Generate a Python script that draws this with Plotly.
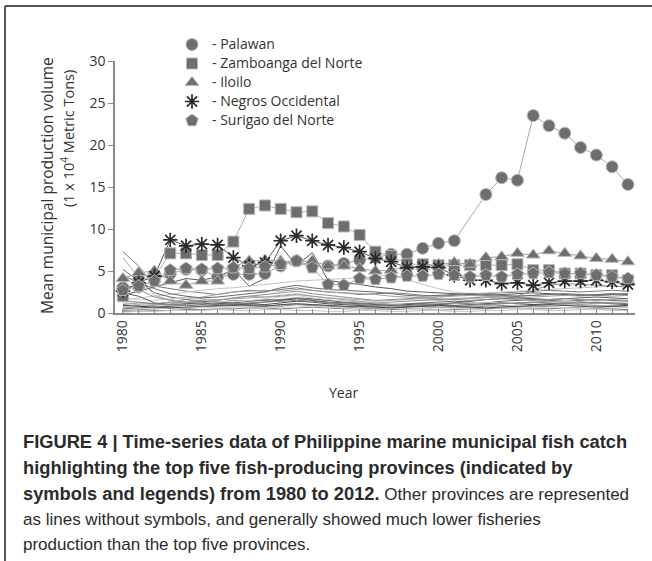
import plotly.graph_objects as go

years = list(range(1980, 2013))

palawan = [3.0, 3.1, 3.9, 4.7, 5.2, 5.1, 4.3, 4.6, 4.6, 4.7, 5.6,
           6.2, 5.6, 5.6, 5.9, 6.3, 6.6, 7.0, 7.0, 7.7, 8.3, 8.6,
           None, 14.1, 16.1, 15.8, 23.5, 22.3, 21.4, 19.7, 18.8, 17.4, 15.3]
zamboanga = [2.0, 4.0, 4.3, 7.1, 7.1, 6.9, 6.9, 8.5, 12.4, 12.8, 12.4,
             12.0, 12.1, 10.7, 10.3, 9.3, 7.3, 6.8, 5.8, 5.8, 5.7, 5.7,
             5.7, 5.7, 5.7, 5.8, 5.1, 5.1, 4.7, 4.7, 4.5, 4.5, 3.9]
iloilo = [4.1, 4.8, 5.0, 3.8, 3.3, 3.8, 3.8, 5.5, 6.2, 6.3, 6.2,
          6.1, 6.2, 5.6, 5.6, 5.3, 5.0, 5.1, 5.5, 5.5, 5.8, 6.0,
          5.8, 6.6, 6.7, 7.1, 6.9, 7.4, 7.1, 6.8, 6.5, 6.4, 6.1]
negros = [2.6, 3.6, 4.4, 8.7, 8.0, 8.2, 8.1, 6.6, 5.6, 6.0, 8.6,
          9.2, 8.6, 8.1, 7.8, 7.3, 6.5, 6.1, 5.4, 5.5, 5.4, 4.5,
          3.9, 3.9, 3.5, 3.6, 3.3, 3.6, 3.8, 3.8, 3.9, 3.7, 3.4]
surigao = [2.7, 3.2, 3.8, 5.1, 5.3, 5.2, 5.3, 5.4, 5.3, 5.5, 5.8,
           6.2, 5.4, 3.4, 3.3, 4.1, 4.0, 4.2, 4.4, 4.4, 4.6, 4.5,
           4.3, 4.5, 4.3, 4.6, 4.7, 4.8, 4.7, 4.7, 4.5, 4.3, 4.1]

top_names = ["- Palawan", "- Zamboanga del Norte", "- Iloilo",
             "- Negros Occidental", "- Surigao del Norte"]

other_provinces = [
    [7.3, 5.6, 3.2, 2.9, 2.6, 2.4, 2.2, 2.5, 2.7, 2.6, 2.8,
     3.0, 2.7, 2.5, 2.4, 2.2, 2.3, 2.4, 2.3, 2.1, 2.0, 2.1,
     2.2, 2.3, 2.4, 2.5, 2.6, 2.7, 2.6, 2.5, 2.6, 2.7, 2.6],
    [6.6, 4.2, 2.1, 1.6, 1.9, 1.7, 1.5, 1.8, 2.0, 1.9, 2.1,
     2.3, 2.0, 1.8, 1.7, 1.6, 1.4, 1.5, 1.6, 1.7, 1.5, 1.6,
     1.7, 1.8, 1.9, 2.0, 2.1, 2.2, 2.1, 2.0, 2.1, 2.2, 2.1],
    [2.1, 2.6, 3.1, 3.6, 4.1, 3.9, 4.3, 5.2, 3.2, 4.1, 8.0,
     5.6, 7.2, 3.9, 3.6, 3.4, 3.1, 2.9, 2.6, 2.5, 2.4, 2.3,
     2.2, 2.1, 2.2, 2.3, 2.4, 2.3, 2.2, 2.1, 2.2, 2.3, 2.2],
    [1.5, 1.8, 2.0, 2.2, 2.5, 2.7, 2.9, 3.0, 3.2, 3.4, 3.6,
     3.8, 3.9, 4.0, 4.1, 4.2, 4.3, 4.6, 4.0, 3.4, 2.9, 2.5,
     2.3, 2.4, 2.5, 2.6, 2.7, 2.8, 2.9, 3.0, 3.1, 3.2, 3.1],
    [1.0, 1.2, 1.1, 1.3, 1.2, 1.4, 1.3, 1.5, 1.4, 1.6, 1.5,
     1.7, 1.6, 1.5, 1.4, 1.3, 1.2, 1.3, 1.4, 1.5, 1.6, 1.7,
     1.8, 1.9, 2.0, 2.0, 2.7, 3.3, 3.5, 3.4, 3.3, 3.2, 3.1],
    [0.8, 0.9, 1.0, 1.3, 1.6, 1.9, 2.2, 2.5, 2.6, 2.7, 2.6,
     2.8, 2.7, 2.5, 2.4, 2.3, 2.2, 2.0, 1.9, 1.8, 1.9, 2.0,
     2.1, 2.0, 1.9, 1.8, 1.9, 2.0, 2.1, 2.2, 2.1, 2.0, 2.1],
    [5.2, 3.8, 2.4, 1.9, 1.6, 1.4, 1.3, 1.2, 1.4, 1.5, 1.6,
     1.8, 1.7, 1.5, 1.3, 1.2, 1.1, 1.0, 1.1, 1.2, 1.3, 1.4,
     1.3, 1.2, 1.4, 1.5, 1.6, 1.5, 1.4, 1.5, 1.6, 1.5, 1.4],
    [1.8, 1.6, 1.5, 1.7, 1.8, 1.6, 1.4, 1.3, 1.5, 1.7, 1.9,
     2.1, 1.8, 1.6, 1.4, 1.3, 1.2, 1.1, 1.0, 0.9, 1.0, 1.1,
     1.2, 1.3, 1.2, 1.1, 1.2, 1.3, 1.4, 1.3, 1.2, 1.3, 1.2],
    [0.5, 0.6, 0.7, 0.8, 0.9, 1.0, 1.1, 1.2, 1.1, 1.0, 1.2,
     1.4, 1.3, 1.1, 1.0, 0.9, 0.8, 0.9, 1.0, 1.1, 1.0, 0.9,
     1.0, 1.1, 1.2, 1.1, 1.0, 1.1, 1.2, 1.3, 1.2, 1.1, 1.0],
    [0.3, 0.4, 0.5, 0.6, 0.5, 0.7, 0.8, 0.9, 1.0, 0.9, 0.8,
     1.0, 0.9, 0.8, 0.7, 0.6, 0.5, 0.6, 0.7, 0.8, 0.7, 0.6,
     0.7, 0.8, 0.9, 0.8, 0.7, 0.8, 0.9, 1.0, 0.9, 0.8, 0.7],
    [0.2, 0.2, 0.3, 0.3, 0.4, 0.4, 0.5, 0.5, 0.6, 0.6, 0.5,
     0.6, 0.7, 0.6, 0.5, 0.5, 0.4, 0.4, 0.5, 0.5, 0.4, 0.4,
     0.5, 0.5, 0.6, 0.6, 0.5, 0.5, 0.6, 0.6, 0.5, 0.5, 0.4],
    [1.2, 1.0, 0.8, 0.9, 1.0, 1.1, 0.9, 0.8, 0.7, 0.8, 0.9,
     1.1, 1.0, 0.9, 0.8, 0.7, 0.6, 0.7, 0.8, 0.7, 0.6, 0.7,
     0.8, 0.9, 0.8, 0.7, 0.8, 0.9, 1.0, 0.9, 0.8, 0.9, 0.8],
    [2.4, 2.0, 1.2, 1.0, 1.1, 1.2, 1.0, 0.9, 1.1, 1.3, 1.5,
     1.7, 1.5, 1.3, 1.2, 1.1, 1.0, 0.9, 0.8, 0.9, 1.0, 1.2,
     1.4, 1.6, 1.7, 1.8, 1.7, 1.6, 1.7, 1.8, 1.9, 1.8, 1.7],
    [0.1, 0.2, 0.2, 0.3, 0.3, 0.3, 0.4, 0.3, 0.3, 0.4, 0.4,
     0.3, 0.3, 0.2, 0.2, 0.3, 0.3, 0.2, 0.2, 0.3, 0.3, 0.2,
     0.2, 0.3, 0.3, 0.4, 0.4, 0.3, 0.3, 0.4, 0.4, 0.3, 0.3],
    [3.5, 2.8, 1.9, 1.5, 1.3, 1.2, 1.5, 1.8, 2.0, 2.2, 2.4,
     2.6, 2.3, 2.1, 1.9, 1.7, 1.5, 1.6, 1.7, 1.8, 1.7, 1.6,
     1.5, 1.6, 1.7, 1.6, 1.5, 1.6, 1.7, 1.6, 1.5, 1.6, 1.5],
    [0.6, 0.7, 0.9, 1.1, 1.3, 1.5, 1.6, 1.7, 1.8, 1.9, 2.0,
     2.2, 2.0, 1.8, 1.6, 1.4, 1.2, 1.0, 0.9, 0.8, 0.7, 0.8,
     0.9, 1.0, 1.1, 1.2, 1.3, 1.4, 1.3, 1.2, 1.1, 1.2, 1.1],
    [4.5, 3.6, 2.9, 2.3, 2.0, 1.8, 1.9, 2.1, 2.3, 2.5, 3.0,
     3.3, 3.0, 2.8, 2.7, 2.6, 2.5, 2.3, 2.1, 2.0, 2.1, 2.2,
     2.3, 2.2, 2.1, 2.0, 2.1, 2.2, 2.3, 2.2, 2.1, 2.2, 2.3],
    [0.4, 0.5, 0.6, 0.5, 0.6, 0.7, 0.6, 0.7, 0.8, 0.7, 0.6,
     0.7, 0.8, 0.7, 0.6, 0.5, 0.4, 0.5, 0.6, 0.5, 0.4, 0.5,
     0.6, 0.7, 0.6, 0.5, 0.6, 0.7, 0.6, 0.5, 0.6, 0.7, 0.6],
    [0.9, 0.8, 0.7, 0.6, 0.7, 0.8, 0.9, 1.0, 0.9, 0.8, 1.0,
     1.1, 1.0, 0.9, 0.8, 0.8, 0.7, 0.6, 0.7, 0.8, 0.9, 0.8,
     0.7, 0.6, 0.7, 0.8, 0.9, 1.0, 0.9, 0.8, 0.7, 0.8, 0.9],
    [1.4, 1.3, 1.1, 1.0, 0.9, 0.8, 1.0, 1.1, 1.2, 1.3, 1.4,
     1.5, 1.4, 1.2, 1.1, 1.0, 0.9, 0.8, 0.9, 1.0, 1.1, 1.2,
     1.1, 1.0, 1.1, 1.2, 1.3, 1.2, 1.1, 1.2, 1.3, 1.2, 1.1],
]

y_ticks = [0, 5, 10, 15, 20, 25, 30]
x_tick_labels = [1980, 1985, 1990, 1995, 2000, 2005, 2010]

FONT = "Open Sans, Noto Sans, sans-serif"
CAP_FONT = "Liberation Sans Narrow, Liberation Sans, Arial, sans-serif"

fig = go.Figure()

bg_colors = ["#7a7a7a", "#b0b0b0", "#5a5a5a", "#c4c4c4", "#909090",
             "#a0a0a0", "#6a6a6a", "#d0d0d0", "#4a4a4a", "#858585"]
for i, vals in enumerate(other_provinces):
    fig.add_trace(go.Scatter(x=years, y=vals, mode="lines",
                             line=dict(color=bg_colors[i % len(bg_colors)], width=1),
                             showlegend=False, hoverinfo="skip"))

series = [palawan, zamboanga, iloilo, negros, surigao]
styles = [
    ("circle", "#6e6e6e", "#b5b5b5", 12, "#a8a8a8"),
    ("square", "#6e6e6e", "#b5b5b5", 11, "#b0b0b0"),
    ("triangle-up", "#6e6e6e", "#b5b5b5", 12, "#a0a0a0"),
    ("asterisk-open", "#2a2a2a", "#2a2a2a", 12, "#555555"),
    ("pentagon", "#6e6e6e", "#b5b5b5", 13, "#a0a0a0"),
]

# connecting lines first
for vals, st in zip(series, styles):
    fig.add_trace(go.Scatter(x=years, y=vals, mode="lines", connectgaps=True,
                             line=dict(color=st[4], width=1),
                             showlegend=False, hoverinfo="skip"))
# markers (with legend entries)
for vals, st, name in zip(series, styles, top_names):
    sym, fill, edge, size, _ = st
    lw = 1.7 if sym.startswith("asterisk") else 1
    fig.add_trace(go.Scatter(
        x=years, y=vals, mode="markers",
        name='<span style="font-size:14px">' + name + "</span>",
        cliponaxis=False,
        marker=dict(symbol=sym, size=size, color=fill,
                    line=dict(color=edge, width=lw)),
    ))

# frame lines of the figure panel
fig.add_shape(type="line", xref="paper", yref="paper",
              x0=(5 - 115) / 520, x1=(652 - 115) / 520,
              y0=(313 - 6) / 252, y1=(313 - 6) / 252,
              line=dict(color="#555555", width=2))
fig.add_shape(type="line", xref="paper", yref="paper",
              x0=(5 - 115) / 520, x1=(5 - 115) / 520,
              y0=(313 - 6) / 252, y1=(313 - 561) / 252,
              line=dict(color="#555555", width=2))

# y-axis title (two lines)
fig.add_annotation(xref="paper", yref="paper", x=(47 - 115) / 520, y=(313 - 186) / 252,
                   xanchor="center", yanchor="middle", textangle=-90, showarrow=False,
                   text="Mean municipal production volume",
                   font=dict(family=FONT, size=15.5, color="#333333"))
fig.add_annotation(xref="paper", yref="paper", x=(67 - 115) / 520, y=(313 - 139) / 252,
                   xanchor="center", yanchor="middle", textangle=-90, showarrow=False,
                   text="(1 x 10<sup>4</sup> Metric Tons)",
                   font=dict(family=FONT, size=14.5, color="#333333"))
# x-axis title
fig.add_annotation(xref="paper", yref="paper", x=(343 - 115) / 520, y=(313 - 392) / 252,
                   xanchor="center", yanchor="middle", showarrow=False,
                   text="Year", font=dict(family=FONT, size=14, color="#333333"))

caption_lines = [
    "<b>FIGURE 4 | Time-series data of Philippine marine municipal fish catch</b>",
    "<b>highlighting the top five fish-producing provinces (indicated by</b>",
    "<b>symbols and legends) from 1980 to 2012.</b>"
    '<span style="font-size:17px"> Other provinces are represented</span>',
    "as lines without symbols, and generally showed much lower fisheries",
    "production than the top five provinces.",
]
caption_sizes = [18.3, 18.3, 18.3, 17, 17]
caption_y = [441, 467, 493, 519, 544]
for txt, py, fs in zip(caption_lines, caption_y, caption_sizes):
    fig.add_annotation(xref="paper", yref="paper", x=(21 - 115) / 520, y=(313 - py) / 252,
                       xanchor="left", yanchor="middle", showarrow=False, align="left",
                       text=txt, font=dict(family=CAP_FONT, size=fs, color="#2b2b2b"))

fig.update_layout(
    width=652, height=561,
    margin=dict(l=115, r=17, t=61, b=248),
    paper_bgcolor="white", plot_bgcolor="white",
    font=dict(family=FONT, size=14, color="#333333"),
    legend=dict(x=(172 - 115) / 520, y=(313 - 30) / 252, xanchor="left", yanchor="top",
                bgcolor="rgba(0,0,0,0)", font=dict(family=FONT, size=12, color="#333333"),
                itemclick=False, tracegroupgap=0),
    xaxis=dict(range=[1979.5, 2012.45], tickvals=x_tick_labels, ticktext=[str(v) for v in x_tick_labels],
               tickangle=-90, showgrid=False, zeroline=False,
               showline=True, linecolor="#8a8a8a", linewidth=1.5,
               ticks="inside", ticklen=4, tickcolor="#8a8a8a",
               minor=dict(dtick=1, tick0=1980, ticks="inside", ticklen=4, tickcolor="#8a8a8a"),
               tickfont=dict(family=FONT, size=14, color="#333333")),
    yaxis=dict(range=[0, 30], tickvals=y_ticks, showgrid=False, zeroline=False,
               showline=True, linecolor="#8a8a8a", linewidth=1.5,
               ticks="outside", ticklen=5, tickcolor="#8a8a8a",
               tickfont=dict(family=FONT, size=14, color="#333333")),
)

fig.write_html("out.html", config={"displayModeBar": False},
               post_script="document.body.style.margin='0px';")
